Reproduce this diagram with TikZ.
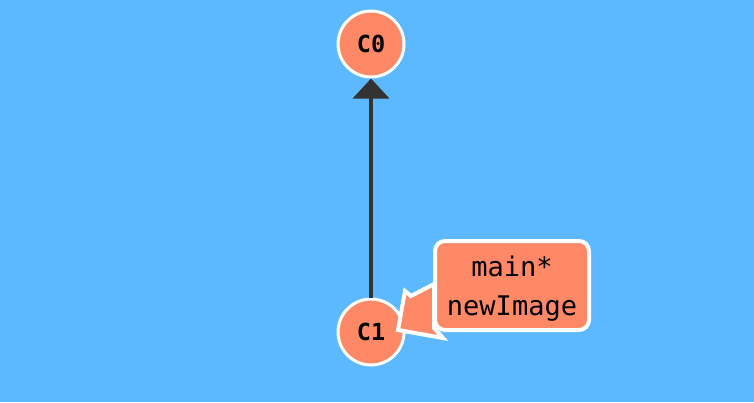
\documentclass[tikz,border=0pt]{standalone}
\usepackage{fontspec}
\newfontfamily\monof{DejaVu Sans Mono}
\newfontfamily\monob{DejaVu Sans Mono Bold}
\usetikzlibrary{arrows.meta}
\definecolor{bg}{HTML}{5CB8FF}
\definecolor{salmon}{HTML}{FF8866}
\definecolor{edge}{HTML}{333333}
\tikzset{
  commit/.style={circle, fill=salmon, draw=white, line width=3pt, minimum size=66pt, inner sep=0pt, font=\monob\fontsize{23.5}{26}\selectfont},
  label/.style={rounded corners=10pt, fill=salmon, draw=white, line width=4pt, minimum width=154pt, minimum height=89pt, align=center, font=\monof\fontsize{27}{39}\selectfont},
  parent/.style={draw=edge, line width=3.5pt, -{Triangle[length=20pt,width=36pt]}}
}
\begin{document}
\begin{tikzpicture}[x=1pt,y=-1pt]
\fill[bg] (0,0) rectangle (754,402);
\useasboundingbox (0,0) rectangle (754,402);
\node[commit] (c0) at (371,44) {C0};
\node[commit] (c1) at (371,332) {C1};
\draw[parent] (c1) -- (c0);
\coordinate (tip) at (398,330);
\draw[fill=salmon, draw=white, line width=4pt, line join=miter] (434,284) -- (411,296) -- (405,291) -- (tip) -- (443,338) -- (434,328) -- cycle;
\node[label] (lbl) at (512,285.5) {};
\node[font=\monof\fontsize{27}{39}\selectfont, align=center] (txt) at (512,288.5) {main*\\newImage};
\end{tikzpicture}
\end{document}
